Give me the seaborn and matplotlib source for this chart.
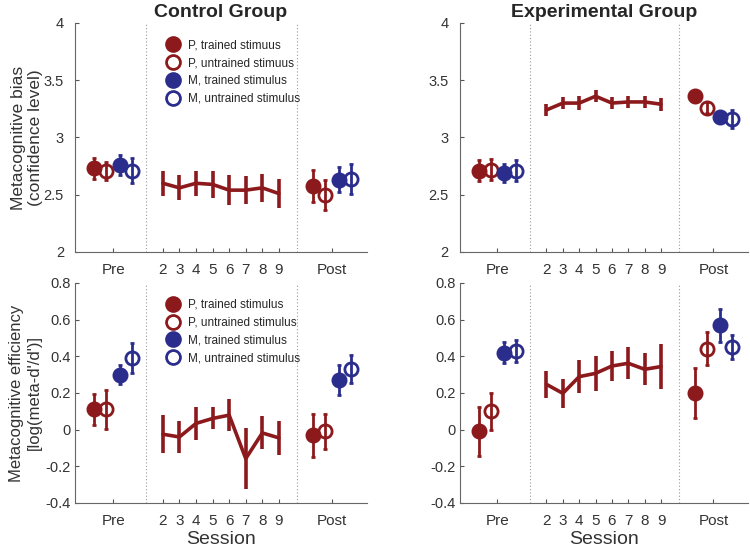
import numpy as np
import seaborn as sns
import matplotlib.pyplot as plt
from matplotlib.lines import Line2D

sns.set_style("ticks")
plt.rcParams['font.family'] = ['Liberation Sans', 'DejaVu Sans']

RED = "#8c1a1d"
BLUE = "#2a2d8c"

sessions = [2, 3, 4, 5, 6, 7, 8, 9]
x_ticklabels = ["Pre", "2", "3", "4", "5", "6", "7", "8", "9", "Post"]

# order of the four points: P trained, P untrained, M trained, M untrained
ctrl_bias_pre = [2.73, 2.71, 2.76, 2.71]
ctrl_bias_pre_err = [0.09, 0.08, 0.09, 0.11]
ctrl_bias_post = [2.58, 2.50, 2.63, 2.64]
ctrl_bias_post_err = [0.14, 0.13, 0.11, 0.13]
ctrl_bias_sess = [2.60, 2.56, 2.60, 2.59, 2.54, 2.54, 2.56, 2.51]
ctrl_bias_sess_err = [0.11, 0.11, 0.11, 0.12, 0.13, 0.12, 0.12, 0.13]

exp_bias_pre = [2.71, 2.72, 2.69, 2.71]
exp_bias_pre_err = [0.09, 0.09, 0.08, 0.09]
exp_bias_post = [3.36, 3.26, 3.18, 3.16]
exp_bias_post_err = [0.03, 0.05, 0.04, 0.08]
exp_bias_sess = [3.24, 3.30, 3.30, 3.36, 3.30, 3.31, 3.31, 3.29]
exp_bias_sess_err = [0.05, 0.055, 0.06, 0.05, 0.05, 0.05, 0.05, 0.055]

ctrl_eff_pre = [0.11, 0.11, 0.30, 0.39]
ctrl_eff_pre_err = [0.085, 0.105, 0.052, 0.082]
ctrl_eff_post = [-0.03, -0.01, 0.27, 0.33]
ctrl_eff_post_err = [0.117, 0.097, 0.08, 0.075]
ctrl_eff_sess = [-0.025, -0.04, 0.034, 0.061, 0.079, -0.158, -0.018, -0.045]
ctrl_eff_sess_err = [0.105, 0.085, 0.088, 0.06, 0.088, 0.166, 0.09, 0.093]

exp_eff_pre = [-0.01, 0.10, 0.42, 0.43]
exp_eff_pre_err = [0.135, 0.10, 0.057, 0.06]
exp_eff_post = [0.20, 0.44, 0.57, 0.45]
exp_eff_post_err = [0.134, 0.09, 0.09, 0.064]
exp_eff_sess = [0.247, 0.198, 0.289, 0.307, 0.347, 0.362, 0.329, 0.344]
exp_eff_sess_err = [0.073, 0.078, 0.09, 0.096, 0.084, 0.087, 0.088, 0.125]

legend_top = ["P, trained stimuus", "P, untrained stimuus",
              "M, trained stimulus", "M, untrained stimulus"]
legend_bottom = ["P, trained stimulus", "P, untrained stimulus",
                 "M, trained stimulus", "M, untrained stimulus"]

PRE_X, POST_X = -1.0, 12.2
offsets = [-1.15, -0.4, 0.4, 1.15]
colors = [RED, RED, BLUE, BLUE]
filled = [True, False, True, False]


def draw_panel(ax, pre, pre_err, sess, sess_err, post, post_err, ylim, yticks, ypad):
    for xc in (1, 10.1):
        ax.axvline(xc, color="#999999", ls=(0, (1, 2)), lw=0.8, zorder=0)
    for base, vals, errs in ((PRE_X, pre, pre_err), (POST_X, post, post_err)):
        for i in range(4):
            ax.errorbar(base + offsets[i], vals[i], yerr=errs[i], fmt="o",
                        color=colors[i], mfc=colors[i] if filled[i] else "none",
                        mec=colors[i], mew=2, ms=9.5, elinewidth=2, capsize=1.5,
                        capthick=1.5, zorder=3)
    ax.errorbar(sessions, sess, yerr=sess_err, fmt="none", ecolor=RED,
                elinewidth=2.6, capsize=0, zorder=2)
    sns.lineplot(x=sessions, y=sess, ax=ax, color=RED, lw=2.6, zorder=2)
    ax.set_xlim(-3.3, 14.3)
    ax.set_ylim(*ylim)
    ax.set_yticks(yticks)
    ax.set_yticklabels([f"{v:g}" for v in yticks])
    ax.set_xticks([PRE_X] + sessions + [POST_X])
    ax.set_xticklabels(x_ticklabels)
    ax.tick_params(direction="in", length=3, colors="#555555", labelcolor="#333333",
                   labelsize=10.5, width=0.8)
    ax.tick_params(axis="x", pad=8, labelsize=11)
    ax.tick_params(axis="y", pad=ypad)
    sns.despine(ax=ax)
    for s in ("left", "bottom"):
        ax.spines[s].set_color("#666666")
        ax.spines[s].set_linewidth(0.8)


def add_legend(ax, labels):
    handles = [Line2D([], [], ls="none", marker="o", ms=10, mew=2,
                      color=colors[i], mfc=colors[i] if filled[i] else "white")
               for i in range(4)]
    ax.legend(handles, labels, loc="upper left", bbox_to_anchor=(0.3, 0.955),
              frameon=False, fontsize=8.5, handletextpad=0.9, labelspacing=0.5,
              handlelength=0.8, borderpad=0)


fig = plt.figure(figsize=(7.5, 5.52), dpi=100)
ax1 = fig.add_axes([0.1, 0.5435, 0.389, 0.415])
ax2 = fig.add_axes([0.613, 0.5435, 0.384, 0.415])
ax3 = fig.add_axes([0.1, 0.0888, 0.389, 0.3986])
ax4 = fig.add_axes([0.613, 0.0888, 0.384, 0.3986])

draw_panel(ax1, ctrl_bias_pre, ctrl_bias_pre_err, ctrl_bias_sess, ctrl_bias_sess_err,
           ctrl_bias_post, ctrl_bias_post_err, (2, 4), [2, 2.5, 3, 3.5, 4], 8)
draw_panel(ax2, exp_bias_pre, exp_bias_pre_err, exp_bias_sess, exp_bias_sess_err,
           exp_bias_post, exp_bias_post_err, (2, 4), [2, 2.5, 3, 3.5, 4], 8)
draw_panel(ax3, ctrl_eff_pre, ctrl_eff_pre_err, ctrl_eff_sess, ctrl_eff_sess_err,
           ctrl_eff_post, ctrl_eff_post_err, (-0.4, 0.8),
           [-0.4, -0.2, 0, 0.2, 0.4, 0.6, 0.8], 3)
draw_panel(ax4, exp_eff_pre, exp_eff_pre_err, exp_eff_sess, exp_eff_sess_err,
           exp_eff_post, exp_eff_post_err, (-0.4, 0.8),
           [-0.4, -0.2, 0, 0.2, 0.4, 0.6, 0.8], 3)

add_legend(ax1, legend_top)
add_legend(ax3, legend_bottom)

ax1.set_title("Control Group", fontsize=14, fontweight="bold", pad=4)
ax2.set_title("Experimental Group", fontsize=14, fontweight="bold", pad=4)
ax1.set_ylabel("Metacognitive bias\n(confidence level)", fontsize=12.5, color="#333333")
ax3.set_ylabel("Metacognitive efficiency\n[log(meta-d'/d')]", fontsize=12, color="#333333")
ax1.yaxis.set_label_coords(-0.11, 0.5)
ax3.yaxis.set_label_coords(-0.115, 0.5)
ax3.set_xlabel("Session", fontsize=14, color="#333333", labelpad=2)
ax4.set_xlabel("Session", fontsize=14, color="#333333", labelpad=2)

fig.savefig("out.png", dpi=100)
